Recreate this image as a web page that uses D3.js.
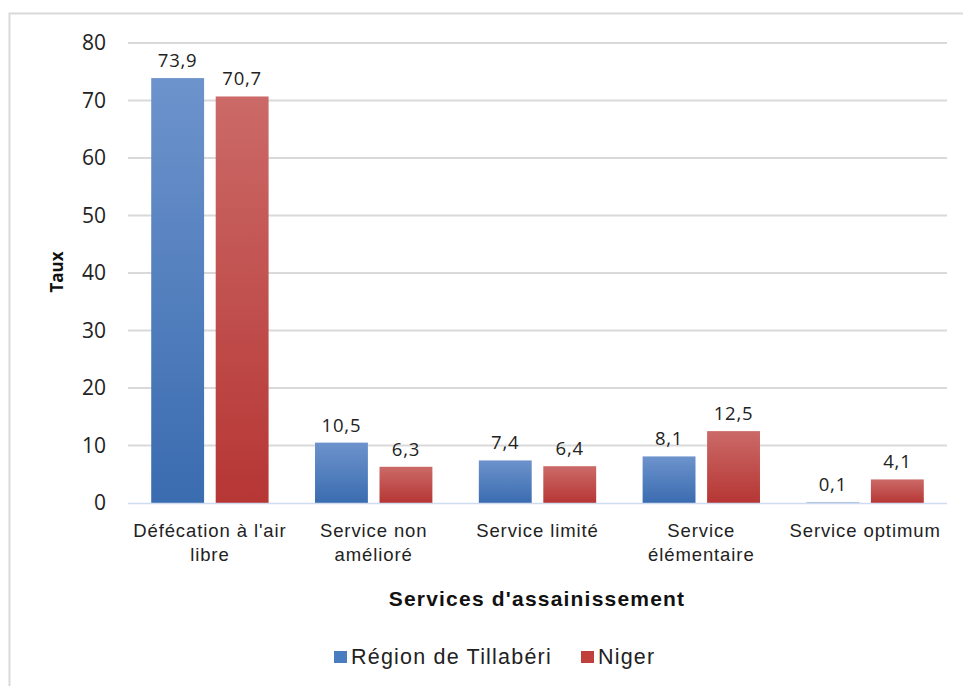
<!DOCTYPE html>
<html>
<head>
<meta charset="utf-8">
<script src="https://cdn.jsdelivr.net/npm/d3@7"></script>
<style>
  body { margin: 0; background: #fff; }
  svg { display: block; }
</style>
</head>
<body>
<div id="chart"></div>
<script>
const categories = [["Défécation à l'air", "libre"], ["Service non", "amélioré"], ["Service limité"], ["Service", "élémentaire"], ["Service optimum"]];
const seriesNames = ["Région de Tillabéri", "Niger"];
const tillaberi = [73.9, 10.5, 7.4, 8.1, 0.1];
const niger = [70.7, 6.3, 6.4, 12.5, 4.1];
const yTicks = [0, 10, 20, 30, 40, 50, 60, 70, 80];

const width = 963, height = 686;
const plot = { left: 128, right: 947, top: 43, bottom: 503 };

const svg = d3.select("#chart").append("svg")
  .attr("width", width)
  .attr("height", height);

// gradients for the bars
const defs = svg.append("defs");
const grads = [["gBlue", "#6d93cc", "#3a6cb0"], ["gRed", "#cb6a68", "#b63634"]];
grads.forEach(([id, top, bottom]) => {
  const g = defs.append("linearGradient").attr("id", id)
    .attr("x1", 0).attr("y1", 0).attr("x2", 0).attr("y2", 1);
  g.append("stop").attr("offset", "0%").attr("stop-color", top);
  g.append("stop").attr("offset", "100%").attr("stop-color", bottom);
});

// frame
svg.append("path")
  .attr("d", `M9.5,${height} V13.5 H${width}`)
  .attr("fill", "none")
  .attr("stroke", "#d9d9d9")
  .attr("stroke-width", 2);

const x = d3.scaleBand()
  .domain(d3.range(categories.length))
  .range([plot.left, plot.right]);

const x1 = d3.scaleBand()
  .domain([0, 1])
  .range([0, x.bandwidth()])
  .paddingInner(0.18)
  .paddingOuter(0.36);

const y = d3.scaleLinear().domain([0, 80]).range([plot.bottom, plot.top]);

// gridlines
svg.append("g")
  .selectAll("line")
  .data(yTicks.filter(d => d > 0))
  .enter().append("line")
  .attr("x1", plot.left).attr("x2", plot.right)
  .attr("y1", d => y(d)).attr("y2", d => y(d))
  .attr("stroke", "#d9d9d9")
  .attr("stroke-width", 2);

// y axis labels
const yAxis = d3.axisLeft(y).tickValues(yTicks).tickSize(0).tickPadding(0);
svg.append("g")
  .attr("transform", `translate(${plot.left - 22},0)`)
  .call(yAxis)
  .call(g => g.select(".domain").remove())
  .selectAll("text")
  .attr("font-family", "'Open Sans', sans-serif")
  .attr("font-size", 21)
  .attr("fill", "#222");

// bars
const series = [tillaberi, niger];
const fills = ["url(#gBlue)", "url(#gRed)"];
series.forEach((vals, s) => {
  const g = svg.append("g");
  g.selectAll("rect")
    .data(vals)
    .enter().append("rect")
    .attr("x", (d, i) => x(i) + x1(s))
    .attr("y", d => y(d))
    .attr("width", x1.bandwidth())
    .attr("height", d => y(0) - y(d))
    .attr("fill", fills[s]);
  g.selectAll("text")
    .data(vals)
    .enter().append("text")
    .attr("x", (d, i) => x(i) + x1(s) + x1.bandwidth() / 2)
    .attr("y", d => y(d) - 11)
    .attr("text-anchor", "middle")
    .attr("font-family", "'Open Sans', sans-serif")
    .attr("font-size", 18.5)
    .attr("letter-spacing", 0.8)
    .attr("fill", "#222")
    .text(d => d3.format(".1f")(d).replace(".", ","));
});

// baseline
svg.append("line")
  .attr("x1", plot.left).attr("x2", plot.right)
  .attr("y1", y(0) + 0.5).attr("y2", y(0) + 0.5)
  .attr("stroke", "#cfdcf0")
  .attr("stroke-width", 1.5);

// category labels
const catG = svg.append("g");
categories.forEach((lines, i) => {
  const t = catG.append("text")
    .attr("x", x(i) + x.bandwidth() / 2)
    .attr("y", 537)
    .attr("text-anchor", "middle")
    .attr("font-family", "'Liberation Sans', Arial, sans-serif")
    .attr("font-size", 18.5)
    .attr("letter-spacing", 0.9)
    .attr("fill", "#222");
  lines.forEach((l, k) => {
    t.append("tspan").attr("x", x(i) + x.bandwidth() / 2).attr("dy", k === 0 ? 0 : 24).text(l);
  });
});

// axis titles
svg.append("text")
  .attr("x", 537).attr("y", 606)
  .attr("text-anchor", "middle")
  .attr("font-family", "'Liberation Sans', Arial, sans-serif")
  .attr("font-weight", "bold")
  .attr("font-size", 21)
  .attr("letter-spacing", 1.2)
  .attr("fill", "#111")
  .text("Services d'assainissement");

svg.append("text")
  .attr("transform", "translate(63,272) rotate(-90)")
  .attr("text-anchor", "middle")
  .attr("font-family", "'Open Sans', sans-serif")
  .attr("font-weight", "bold")
  .attr("font-size", 17)
  .attr("fill", "#111")
  .text("Taux");

// legend
const legendX = [334, 581];
const legendColors = ["#4a7cc0", "#c0403e"];
const leg = svg.append("g");
seriesNames.forEach((name, i) => {
  leg.append("rect")
    .attr("x", legendX[i]).attr("y", 651)
    .attr("width", 13).attr("height", 12)
    .attr("fill", legendColors[i]);
  leg.append("text")
    .attr("x", legendX[i] + 17).attr("y", 664)
    .attr("font-family", "'Liberation Sans', Arial, sans-serif")
    .attr("font-size", 21.5)
    .attr("letter-spacing", 1.2)
    .attr("fill", "#222")
    .text(name);
});
</script>
</body>
</html>
